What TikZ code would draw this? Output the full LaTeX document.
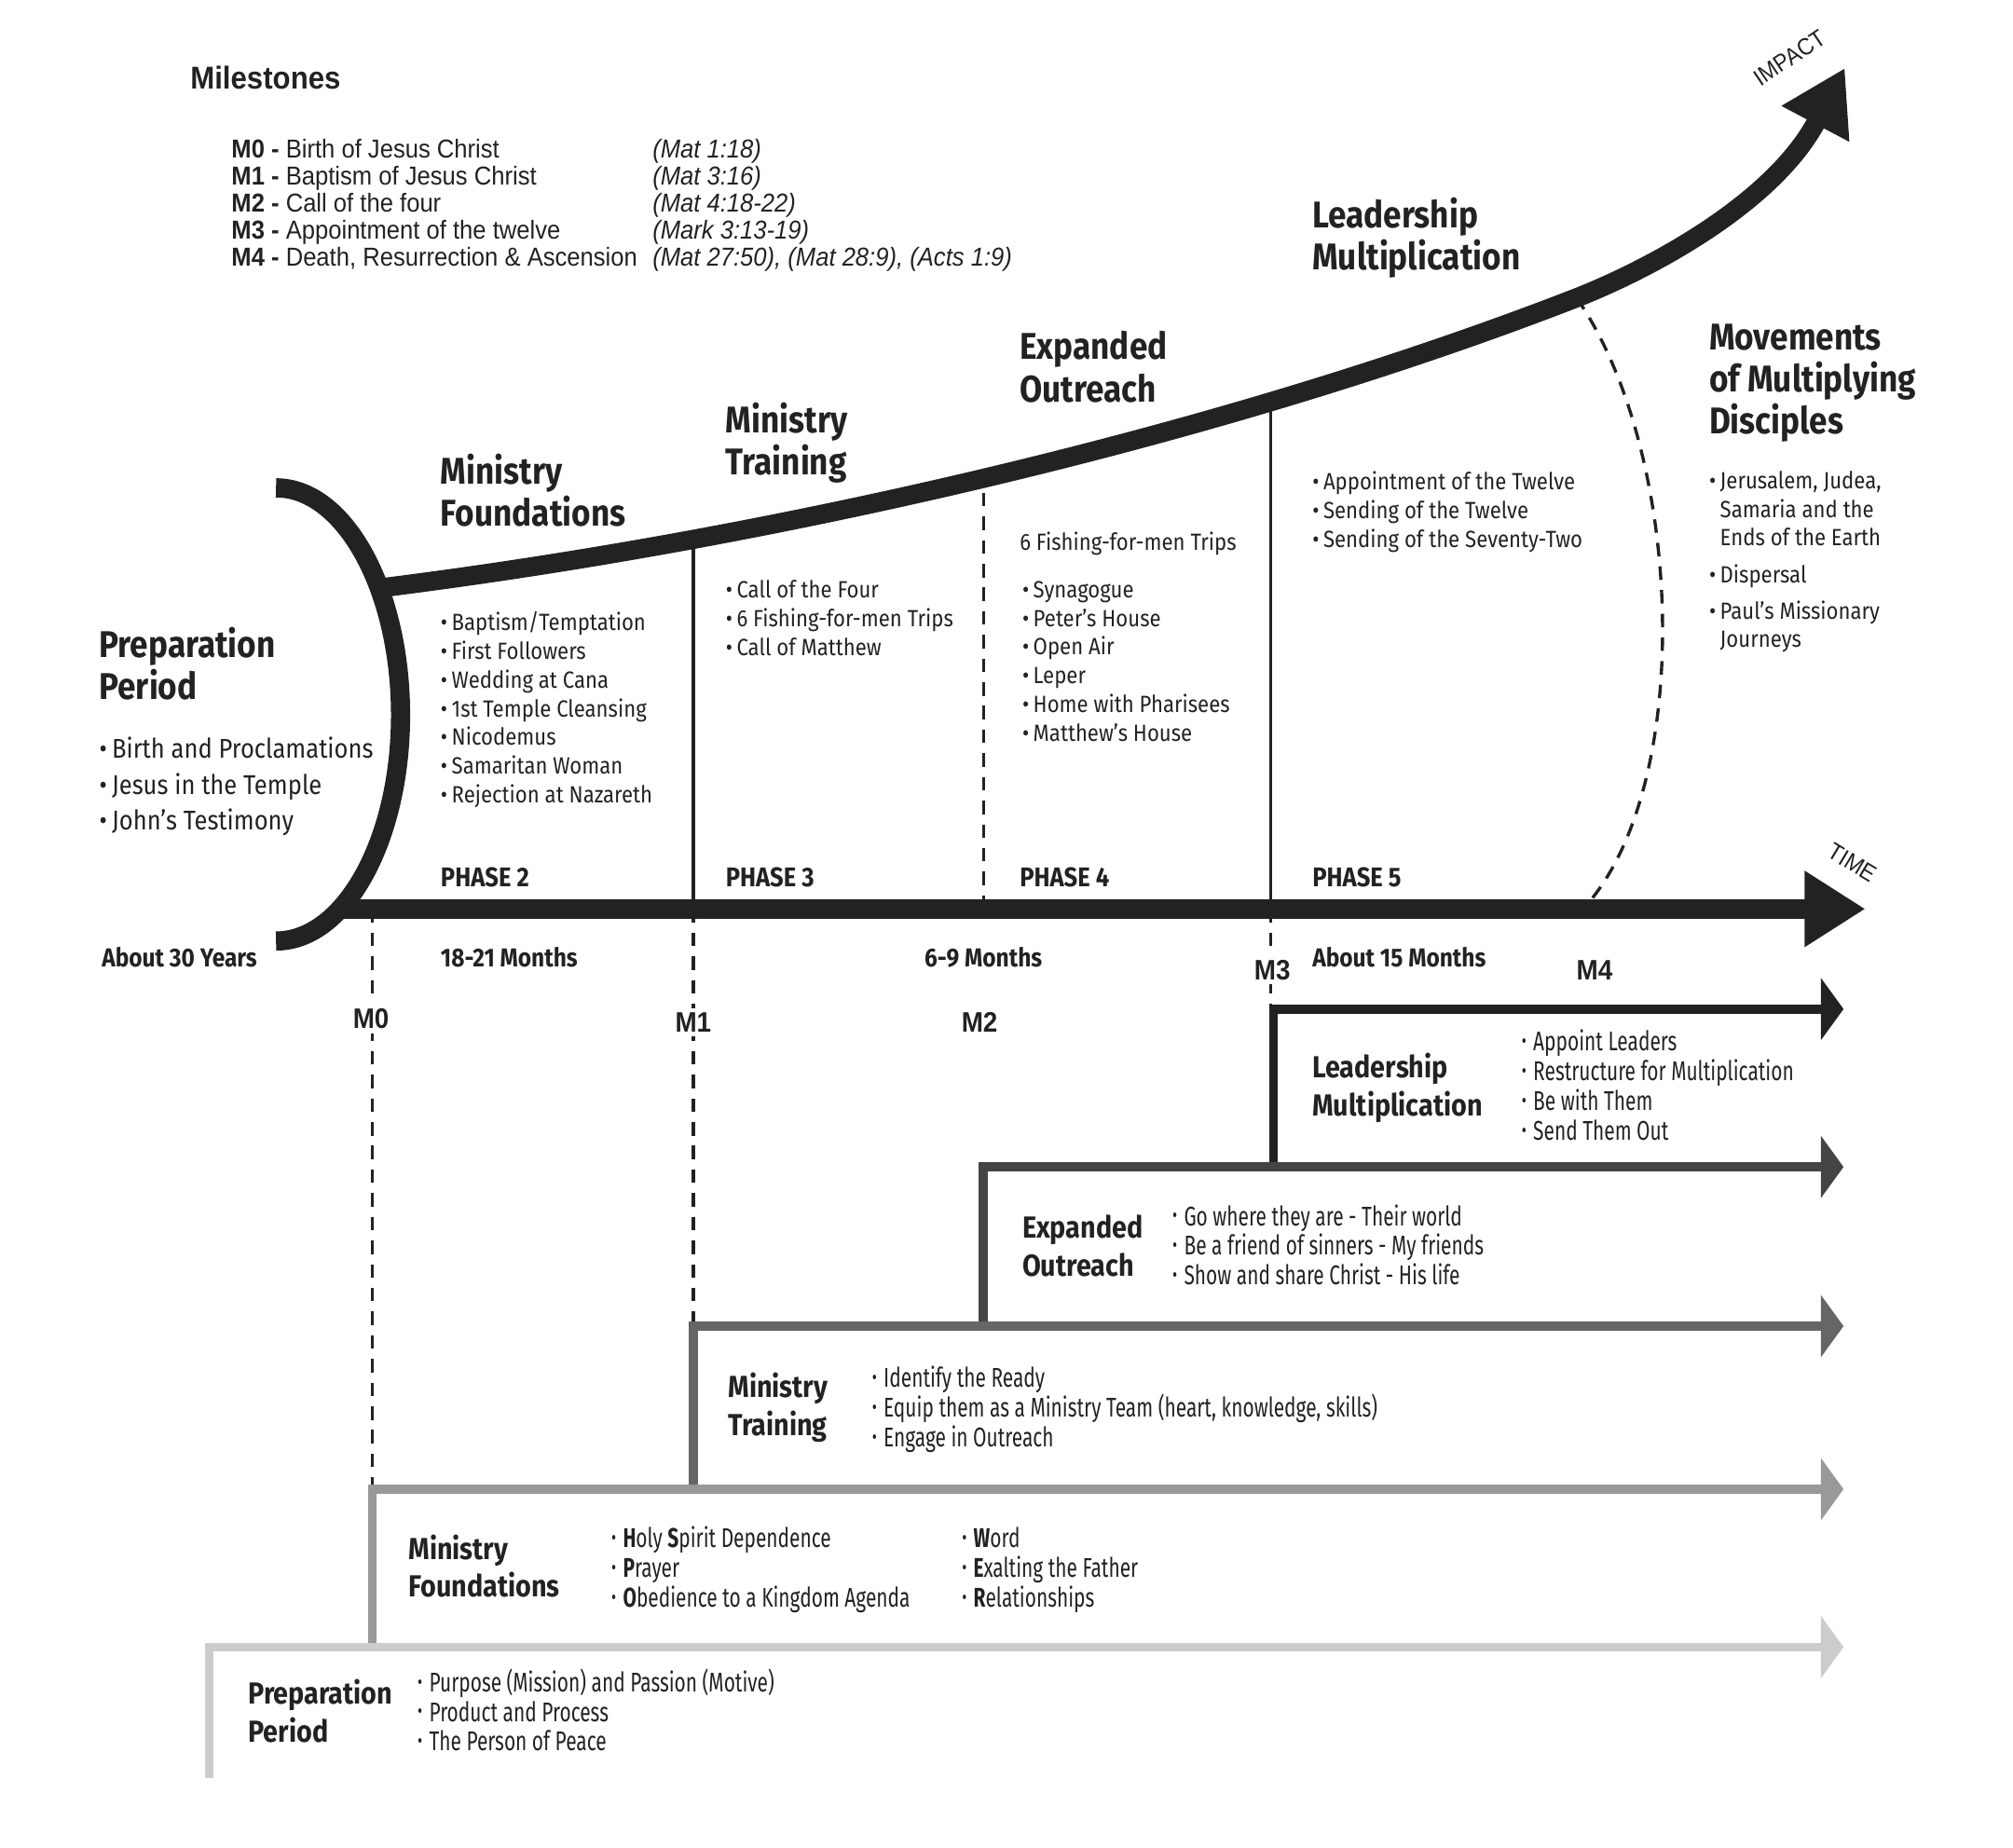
\documentclass[tikz,border=0pt]{standalone}
\usepackage{fontspec}
\usepackage{tikz}
\usetikzlibrary{arrows.meta}
\setmainfont{Fira Sans}[FakeStretch=0.88]
\newfontfamily\stepfont{Fira Sans}[FakeStretch=0.72]
\newfontfamily\helv{Liberation Sans}[FakeStretch=0.92]
\definecolor{inkdark}{RGB}{34,34,34}
\definecolor{stepa}{RGB}{204,204,204}
\definecolor{stepb}{RGB}{153,153,153}
\definecolor{stepc}{RGB}{102,102,102}
\definecolor{stepd}{RGB}{68,68,68}
\definecolor{stepe}{RGB}{34,34,34}
\newcommand{\bulletmark}{•\hspace{0.18em}}
\newcommand{\stepbul}{\raisebox{0.2ex}{\fontsize{9}{9}\selectfont•}\hspace{0.25em}}
\tikzset{
  heading/.style={anchor=base west, inner sep=0pt, align=left,
    font=\fontsize{16.5}{18.7}\selectfont\bfseries, text=inkdark},
  bullets/.style={anchor=base west, inner sep=0pt, align=left,
    font=\fontsize{10.4}{12.75}\selectfont, text=inkdark},
  phaselbl/.style={anchor=base west, inner sep=0pt,
    font=\fontsize{12}{14}\selectfont\bfseries, text=inkdark},
  mlabel/.style={anchor=base, inner sep=2pt, fill=white,
    font=\helv\fontsize{12.5}{14}\selectfont\bfseries, text=inkdark},
  stephead/.style={anchor=base west, inner sep=0pt, align=left,
    font=\fontsize{13.5}{16.8}\selectfont\bfseries, text=inkdark},
  stepitems/.style={anchor=base west, inner sep=0pt, align=left,
    font=\stepfont\fontsize{12}{13.2}\selectfont, text=inkdark},
  thickline/.style={line width=8.5pt, color=inkdark},
  divider/.style={line width=1.4pt, color=inkdark},
  dashdiv/.style={line width=1.4pt, color=inkdark, dash pattern=on 6pt off 4.5pt},
  stepline/.style={line width=4pt, -{Triangle[length=10pt, width=27pt]}}
}
\begin{document}
\begin{tikzpicture}[x=0.02cm, y=-0.02cm]
  \useasboundingbox (0,0) rectangle (1568,1439);

  % Milestones
  \node[anchor=base west, inner sep=0pt, text=inkdark,
    font=\helv\fontsize{14}{16}\selectfont\bfseries] (ms-title) at (148,69) {Milestones};
  \node[anchor=base west, inner sep=0pt, align=left, text=inkdark,
    font=\helv\fontsize{11.5}{11.9}\selectfont] (ms-list) at (180,207)
    {\textbf{M0 -} Birth of Jesus Christ\\
     \textbf{M1 -} Baptism of Jesus Christ\\
     \textbf{M2 -} Call of the four\\
     \textbf{M3 -} Appointment of the twelve\\
     \textbf{M4 -} Death, Resurrection \& Ascension};
  \node[anchor=base west, inner sep=0pt, align=left, text=inkdark,
    font=\helv\fontsize{11.5}{11.9}\selectfont\itshape] (ms-refs) at (508,207)
    {(Mat 1:18)\\ (Mat 3:16)\\ (Mat 4:18-22)\\ (Mark 3:13-19)\\
     (Mat 27:50), (Mat 28:9), (Acts 1:9)};

  % Phase dividers and milestone drops
  \draw[divider] (540,708) -- (540,426);
  \draw[dashdiv] (766,708) -- (766,377);
  \draw[divider] (990,708) -- (990,316);
  \draw[dashdiv] (290,708) -- (290,1160);
  \draw[dashdiv] (540,708) -- (540,1033);
  \draw[dashdiv] (990,708) -- (990,786);
  \draw[dashdiv] (1228,232) .. controls (1310,350) and (1320,600) .. (1240,700);

  % Impact curve, time axis, preparation arc
  \draw[thickline, -{Triangle[length=28pt, width=32pt]}] (296,458)
    .. controls (600,420) and (950,340) .. (1228,232)
    .. controls (1284,210) and (1381,159) .. (1437,53);
  \draw[thickline, -{Triangle[length=27pt, width=32pt]}] (266,708) -- (1453,708);
  \draw[thickline] (215,380) .. controls (268.5,380) and (312,459.5) .. (312,557)
    .. controls (312,654.5) and (268.5,733) .. (215,733);
  \node[font=\helv\fontsize{10.5}{12}\selectfont, rotate=34, text=inkdark, inner sep=1pt] (impact-lbl) at (1394,45) {IMPACT};
  \node[font=\helv\fontsize{10.5}{12}\selectfont, rotate=-31, text=inkdark, inner sep=1pt] (time-lbl) at (1443,672) {TIME};

  % Upper phases
  \node[heading] (prep-head) at (77,545) {Preparation\\Period};
  \node[bullets, font=\fontsize{12}{15.9}\selectfont] (prep-items) at (77,646.5)
    {\bulletmark Birth and Proclamations\\ \bulletmark Jesus in the Temple\\ \bulletmark John’s Testimony};
  \node[phaselbl, font=\fontsize{11.5}{14}\selectfont\bfseries] (dur-prep) at (79,753) {About 30 Years};

  \node[heading] (fnd-head) at (343,410) {Ministry\\Foundations};
  \node[bullets] (fnd-items) at (343,625.5)
    {\bulletmark Baptism/Temptation\\ \bulletmark First Followers\\ \bulletmark Wedding at Cana\\
     \bulletmark 1st Temple Cleansing\\ \bulletmark Nicodemus\\ \bulletmark Samaritan Woman\\
     \bulletmark Rejection at Nazareth};
  \node[phaselbl] (ph2) at (343,691) {PHASE 2};
  \node[phaselbl, font=\fontsize{11.5}{14}\selectfont\bfseries] (dur2) at (343,753) {18-21 Months};

  \node[heading] (trn-head) at (565,370) {Ministry\\Training};
  \node[bullets] (trn-items) at (565,510.5)
    {\bulletmark Call of the Four\\ \bulletmark 6 Fishing-for-men Trips\\ \bulletmark Call of Matthew};
  \node[phaselbl] (ph3) at (565,691) {PHASE 3};

  \node[heading] (out-head) at (794,313) {Expanded\\Outreach};
  \node[bullets] (out-trips) at (794,428.5) {6 Fishing-for-men Trips};
  \node[bullets] (out-items) at (796,577.5)
    {\bulletmark Synagogue\\ \bulletmark Peter’s House\\ \bulletmark Open Air\\ \bulletmark Leper\\
     \bulletmark Home with Pharisees\\ \bulletmark Matthew’s House};
  \node[phaselbl] (ph4) at (794,691) {PHASE 4};
  \node[phaselbl, anchor=base, font=\fontsize{11.5}{14}\selectfont\bfseries] (dur4) at (766,753) {6-9 Months};

  \node[heading] (lead-head) at (1022,210) {Leadership\\Multiplication};
  \node[bullets] (lead-items) at (1022,426.5)
    {\bulletmark Appointment of the Twelve\\ \bulletmark Sending of the Twelve\\ \bulletmark Sending of the Seventy-Two};
  \node[phaselbl] (ph5) at (1022,691) {PHASE 5};
  \node[phaselbl, font=\fontsize{11.5}{14}\selectfont\bfseries] (dur5) at (1022,753) {About 15 Months};

  \node[heading] (mov-head) at (1331,338) {Movements\\of Multiplying\\Disciples};
  \node[bullets] (mov-items) at (1331,504.5)
    {\bulletmark Jerusalem, Judea,\\ \phantom{\bulletmark}Samaria and the\\ \phantom{\bulletmark}Ends of the Earth\\[3.4pt]
     \bulletmark Dispersal\\[3.4pt] \bulletmark Paul’s Missionary\\ \phantom{\bulletmark}Journeys};

  % Milestone labels
  \node[mlabel] (m0) at (289,801) {M0};
  \node[mlabel] (m1) at (540,804) {M1};
  \node[mlabel] (m2) at (763,804) {M2};
  \node[mlabel] (m3) at (991,763) {M3};
  \node[mlabel] (m4) at (1242,763) {M4};

  % Stair steps (darkest first, lighter ones on top)
  \draw[stepline, stepe] (992,909) -- (992,786) -- (1436,786);
  \draw[stepline, stepd] (766,1033) -- (766,909) -- (1436,909);
  \draw[stepline, stepc] (540,1160) -- (540,1033) -- (1436,1033);
  \draw[stepline, stepb] (290,1283) -- (290,1160) -- (1436,1160);
  \draw[stepline, stepa] (163,1385) -- (163,1283) -- (1436,1283);

  \node[stephead] (s-lead-head) at (1022,869) {Leadership\\Multiplication};
  \node[stepitems] (s-lead-items) at (1185,888)
    {\stepbul Appoint Leaders\\ \stepbul Restructure for Multiplication\\ \stepbul Be with Them\\ \stepbul Send Them Out};
  \node[stephead] (s-out-head) at (796,994) {Expanded\\Outreach};
  \node[stepitems] (s-out-items) at (913,1001)
    {\stepbul Go where they are - Their world\\ \stepbul Be a friend of sinners - My friends\\ \stepbul Show and share Christ - His life};
  \node[stephead] (s-trn-head) at (567,1118) {Ministry\\Training};
  \node[stepitems] (s-trn-items) at (679,1127)
    {\stepbul Identify the Ready\\ \stepbul Equip them as a Ministry Team (heart, knowledge, skills)\\ \stepbul Engage in Outreach};
  \node[stephead] (s-fnd-head) at (318,1244) {Ministry\\Foundations};
  \node[stepitems] (s-fnd-a) at (476,1252)
    {\stepbul\textbf{H}oly \textbf{S}pirit Dependence\\ \stepbul\textbf{P}rayer\\ \stepbul\textbf{O}bedience to a Kingdom Agenda};
  \node[stepitems] (s-fnd-b) at (749,1252)
    {\stepbul\textbf{W}ord\\ \stepbul\textbf{E}xalting the Father\\ \stepbul\textbf{R}elationships};
  \node[stephead] (s-prep-head) at (193,1357) {Preparation\\Period};
  \node[stepitems] (s-prep-items) at (325,1364)
    {\stepbul Purpose (Mission) and Passion (Motive)\\ \stepbul Product and Process\\ \stepbul The Person of Peace};
\end{tikzpicture}
\end{document}
